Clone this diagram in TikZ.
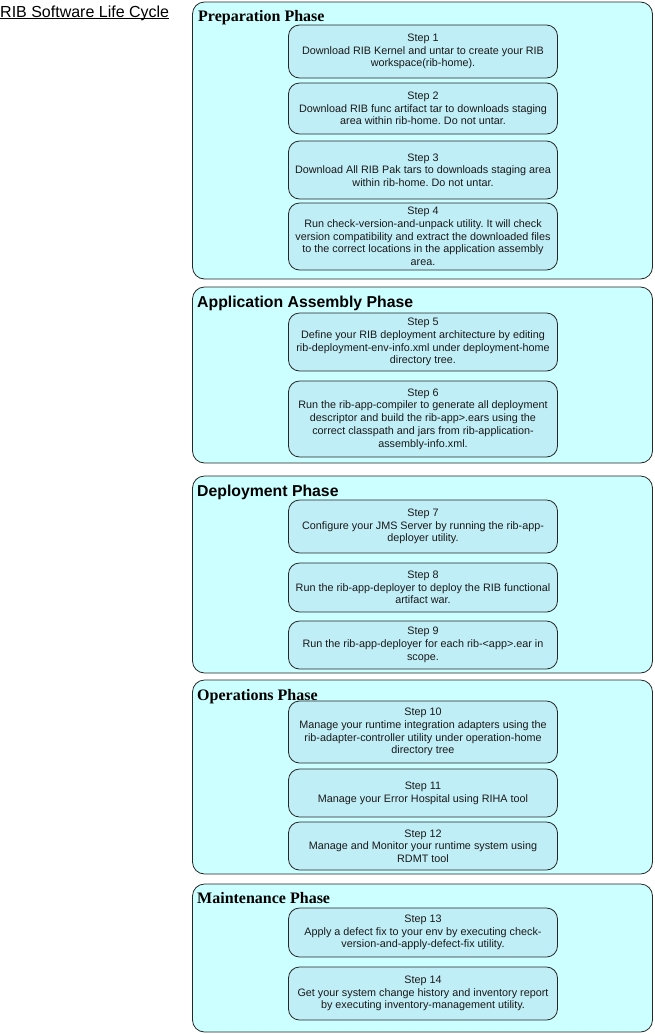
\documentclass[tikz,border=0pt]{standalone}
\usepackage{fontspec}
\setmainfont{Liberation Serif}
\setsansfont{Liberation Sans}
\frenchspacing
\definecolor{phasefill}{HTML}{CCFFFF}
\definecolor{stepfill}{HTML}{C0EEF6}
\begin{document}
\begin{tikzpicture}[x=1pt, y=-1pt,
  phase/.style={draw=black!85, line width=0.8pt, rounded corners=12pt, fill=phasefill},
  stepbox/.style={draw=black!85, line width=0.8pt, rounded corners=11pt, fill=stepfill,
    minimum width=269pt, align=center, inner sep=0pt, text=black!90,
    font=\fontsize{10.8pt}{12.7pt}\selectfont\sffamily},
  phasetitle/.style={anchor=base west, inner sep=0pt}]
  \useasboundingbox (0,0) rectangle (654,1034);

  % title
  \node[anchor=base west, inner sep=0pt, font=\fontsize{16pt}{18pt}\selectfont\sffamily] (lifecycle) at (0,17) {RIB Software Life Cycle};
  \draw[line width=0.9pt] ([yshift=-1.8pt]lifecycle.base west) -- ([yshift=-1.8pt]lifecycle.base east);

  % preparation phase
  \draw[phase] (192.5,2) rectangle (652.5,279);
  \node[phasetitle, font=\fontsize{16pt}{18pt}\selectfont\rmfamily\bfseries] (prep) at (198,21) {Preparation Phase};
  \node[stepbox, minimum height=53pt] (step1) at (423,51.5) {Step 1\\Download RIB Kernel and untar to create your RIB\\workspace(rib-home).};
  \node[stepbox, minimum height=51pt] (step2) at (423,108.5) {Step 2\\Download RIB func artifact tar to downloads staging\\area within rib-home. Do not untar.};
  \node[stepbox, minimum height=58pt] (step3) at (423,170) {Step 3\\Download All RIB Pak tars to downloads staging area\\within rib-home. Do not untar.};
  \node[stepbox, minimum height=67pt] (step4) at (423,236.5) {Step 4\\Run check-version-and-unpack utility. It will check\\version compatibility and extract the downloaded files\\to the correct locations in the application assembly\\area.};

  % application assembly phase
  \draw[phase] (192.5,287) rectangle (652.5,463);
  \node[phasetitle, font=\fontsize{15.8pt}{18pt}\selectfont\sffamily\bfseries] (assembly) at (197,307) {Application Assembly Phase};
  \node[stepbox, minimum height=58pt] (step5) at (423,342) {Step 5\\Define your RIB deployment architecture by editing\\rib-deployment-env-info.xml under deployment-home\\directory tree.};
  \node[stepbox, minimum height=76pt] (step6) at (423,419) {Step 6\\Run the rib-app-compiler to generate all deployment\\descriptor and build the rib-app>.ears using the\\correct classpath and jars from rib-application-\\assembly-info.xml.};

  % deployment phase
  \draw[phase] (192.5,476) rectangle (652.5,673);
  \node[phasetitle, font=\fontsize{15.8pt}{18pt}\selectfont\sffamily\bfseries] (deploy) at (197,496) {Deployment Phase};
  \node[stepbox, minimum height=53pt] (step7) at (423,526.5) {Step 7\\Configure your JMS Server by running the rib-app-\\deployer utility.};
  \node[stepbox, minimum height=49pt] (step8) at (423,587.5) {Step 8\\Run the rib-app-deployer to deploy the RIB functional\\artifact war.};
  \node[stepbox, minimum height=48pt] (step9) at (423,645) {Step 9\\Run the rib-app-deployer for each rib-<app>.ear in\\scope.};

  % operations phase
  \draw[phase] (192.5,680) rectangle (652.5,874);
  \node[phasetitle, font=\fontsize{16pt}{18pt}\selectfont\rmfamily\bfseries] (ops) at (197,700) {Operations Phase};
  \node[stepbox, minimum height=62pt] (step10) at (423,732) {Step 10\\Manage your runtime integration adapters using the\\rib-adapter-controller utility under operation-home\\directory tree};
  \node[stepbox, minimum height=48pt] (step11) at (423,793) {Step 11\\Manage your Error Hospital using RIHA tool};
  \node[stepbox, minimum height=48pt] (step12) at (423,846) {Step 12\\Manage and Monitor your runtime system using\\RDMT tool};

  % maintenance phase
  \draw[phase] (192.5,884) rectangle (652.5,1032);
  \node[phasetitle, font=\fontsize{16pt}{18pt}\selectfont\rmfamily\bfseries] (maint) at (197,903) {Maintenance Phase};
  \node[stepbox, minimum height=49pt] (step13) at (423,932.5) {Step 13\\Apply a defect fix to your env by executing check-\\version-and-apply-defect-fix utility.};
  \node[stepbox, minimum height=53pt] (step14) at (423,993.5) {Step 14\\Get your system change history and inventory report\\by executing inventory-management utility.};
\end{tikzpicture}
\end{document}
